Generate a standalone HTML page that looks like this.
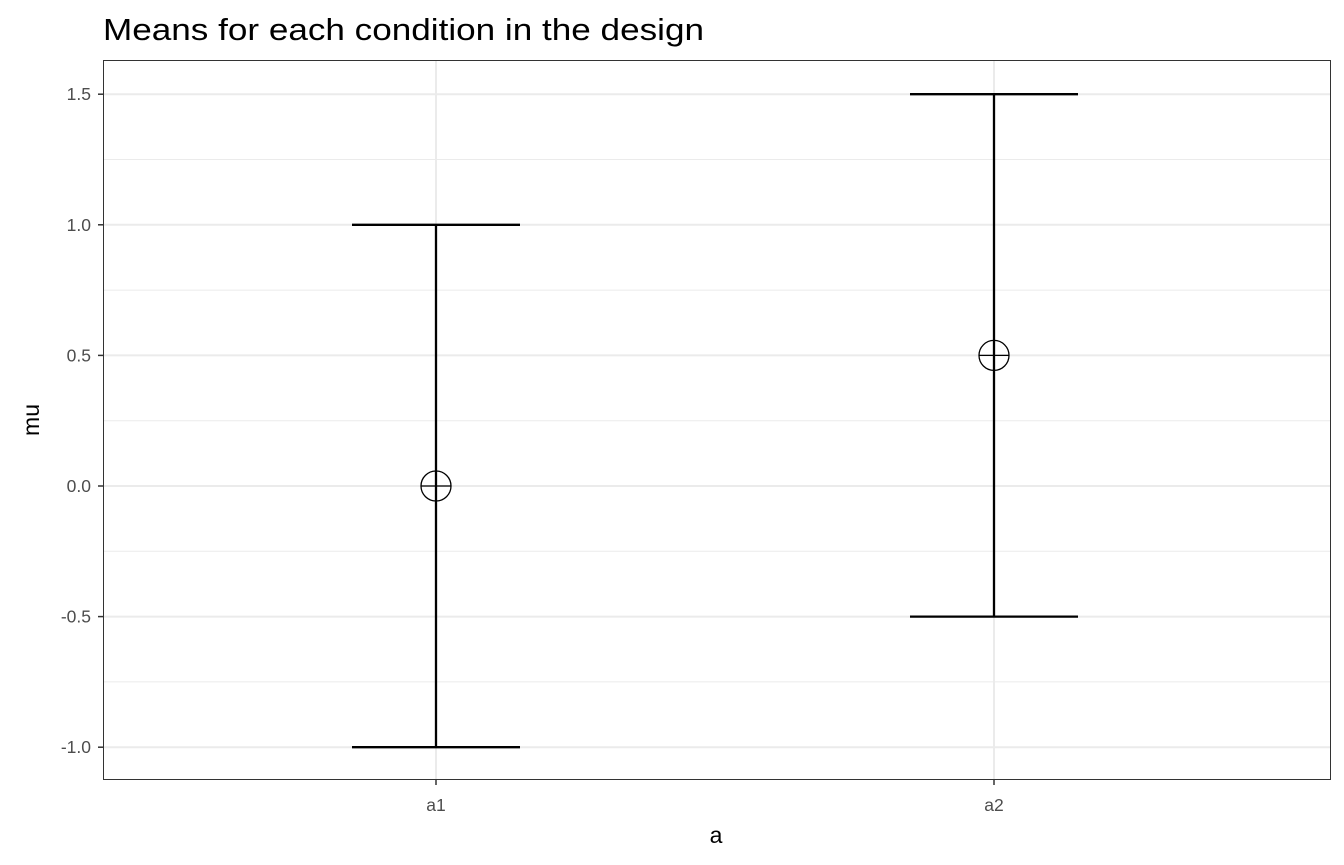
<!DOCTYPE html>
<html><head><meta charset="utf-8"><style>
body{margin:0;background:#fff;font-family:"Liberation Sans",Arial,sans-serif}
svg{display:block}
</style></head><body>
<svg id="chart" width="1344" height="865">
<text x="103" y="40" font-size="31" textLength="601" lengthAdjust="spacingAndGlyphs" fill="#000">Means for each condition in the design</text>
<g id="grid"></g>
<g id="marks"></g>
<rect x="103.5" y="60.5" width="1227" height="719" fill="none" stroke="#333" stroke-width="1"/>
<g id="axes"></g>
<text x="716" y="843" font-size="23" text-anchor="middle">a</text>
<text transform="translate(39,420) rotate(-90)" font-size="23" text-anchor="middle">mu</text>
</svg>
<script>
const categories=["a1","a2"];
const means=[0,0.5];
const lower=[-1,-0.5];
const upper=[1,1.5];
const yTicks=[-1,-0.5,0,0.5,1,1.5];
const yTickLabels=["-1.0","-0.5","0.0","0.5","1.0","1.5"];
const NS="http://www.w3.org/2000/svg";
const px0=103,px1=1330,py0=60,py1=779;
function y(v){return 486-(v)*261.2;}
function x(i){return 436+i*558;}
function mk(tag,attrs,parent){const e=document.createElementNS(NS,tag);for(const k in attrs)e.setAttribute(k,attrs[k]);parent.appendChild(e);return e;}
const grid=document.getElementById('grid'),marks=document.getElementById('marks'),axes=document.getElementById('axes');
for(let i=0;i<yTicks.length-1;i++){const m=(yTicks[i]+yTicks[i+1])/2;
 const l=mk('line',{x1:px0,x2:px1,y1:y(m),y2:y(m),stroke:'#ebebeb','stroke-width':1},grid);
 
 }
yTicks.forEach((t,i)=>{
 const l=mk('line',{x1:px0,x2:px1,y1:y(t),y2:y(t),stroke:'#ebebeb','stroke-width':2},grid);
 
 
 const tk=mk('line',{x1:98,x2:103,y1:y(t),y2:y(t),stroke:'#333','stroke-width':1.5},axes);
 
 
 const tx=mk('text',{x:91,y:y(t)+6,'font-size':17.5,fill:'#4d4d4d','text-anchor':'end'},axes);
 tx.textContent=yTickLabels[i];
 
 
});
categories.forEach((c,i)=>{
 const X=x(i);
 const g=mk('line',{x1:X,x2:X,y1:py0,y2:py1,stroke:'#ebebeb','stroke-width':2},grid);
 
 
 const tk=mk('line',{x1:X,x2:X,y1:780,y2:785,stroke:'#333','stroke-width':1.5},axes);
 
 
 const tx=mk('text',{x:X,y:811,'font-size':17.5,fill:'#4d4d4d','text-anchor':'middle'},axes);
 tx.textContent=c;
 
 
 const eb=mk('path',{d:`M${X-84},${y(upper[i])}H${X+84}M${X},${y(upper[i])}V${y(lower[i])}M${X-84},${y(lower[i])}H${X+84}`,stroke:'#000','stroke-width':2.3,fill:'none'},marks);
 
 
 const Y=y(means[i]);
 const p=mk('path',{d:`M${X-15},${Y}H${X+15}M${X},${Y-15}V${Y+15}`,stroke:'#000','stroke-width':1.3},marks);
 
 
 const ci=mk('circle',{cx:X,cy:Y,r:15,fill:'none',stroke:'#000','stroke-width':1.3},marks);
 
 
});
</script>
</body></html>
